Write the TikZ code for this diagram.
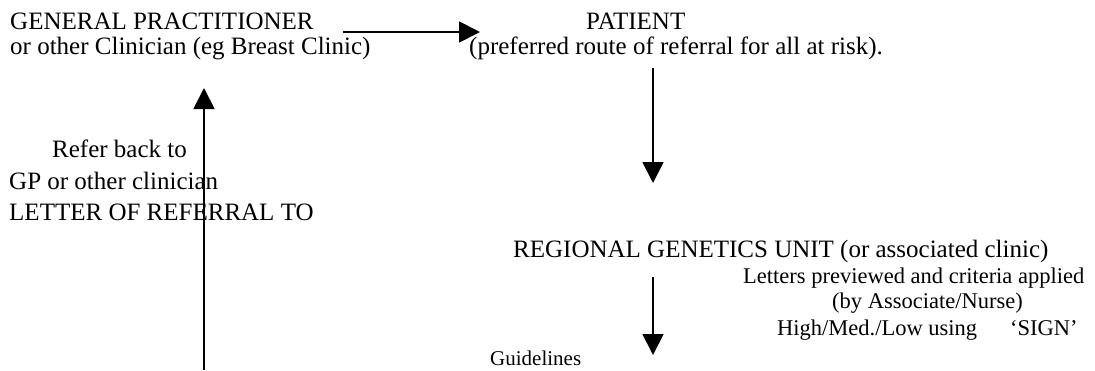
\documentclass[tikz,border=0pt]{standalone}
\usepackage{fontspec}
\setmainfont{Liberation Serif}
\usepackage{tikz}
\usetikzlibrary{arrows.meta}

\begin{document}
\begin{tikzpicture}[x=1pt, y=-1pt,
  every node/.style={anchor=base west, inner sep=0pt},
  bigtext/.style={font=\fontsize{25}{30}\selectfont},
  smalltext/.style={font=\fontsize{22.5}{26}\selectfont},
  flow/.style={line width=1.8pt, -{Triangle[length=21pt,width=21pt]}}]
  \useasboundingbox (0,0) rectangle (1095,370);
  % top row
  \node[bigtext] (gp1) at (10,29) {GENERAL PRACTITIONER};
  \node[bigtext] (gp2) at (10,54) {or other Clinician (eg Breast Clinic)};
  \node[bigtext] (pat1) at (586,29) {PATIENT};
  \node[bigtext] (pat2) at (469,54) {(preferred route of referral for all at risk).};
  % left side
  \node[bigtext] (back1) at (52,157) {Refer back to};
  \node[bigtext] (back2) at (9,189) {GP or other clinician};
  \node[bigtext] (back3) at (9,220) {LETTER OF REFERRAL TO};
  % genetics unit
  \node[bigtext] (rgu) at (513,257) {REGIONAL GENETICS UNIT (or associated clinic)};
  \node[smalltext] (crit1) at (743,283) {Letters previewed and criteria applied};
  \node[smalltext] (crit2) at (832,308) {(by Associate/Nurse)};
  \node[smalltext] (crit3) at (777,335) {High/Med./Low using\hspace{33pt}`SIGN'};
  \node[font=\fontsize{21}{25}\selectfont] (guide) at (490,365) {Guidelines};
  % arrow ends
  \coordinate (hstart) at (343,32);
  \coordinate (hend) at (480,32);
  \coordinate (d1top) at (653,68);
  \coordinate (d1tip) at (653,183);
  \coordinate (d2top) at (653,277);
  \coordinate (d2tip) at (653,355);
  \coordinate (upfoot) at (204,370);
  \coordinate (uptip) at (204,88);
  \draw[flow] (hstart) -- (hend);
  \draw[flow] (d1top) -- (d1tip);
  \draw[flow] (d2top) -- (d2tip);
  \draw[flow] (upfoot) -- (uptip);
\end{tikzpicture}
\end{document}
